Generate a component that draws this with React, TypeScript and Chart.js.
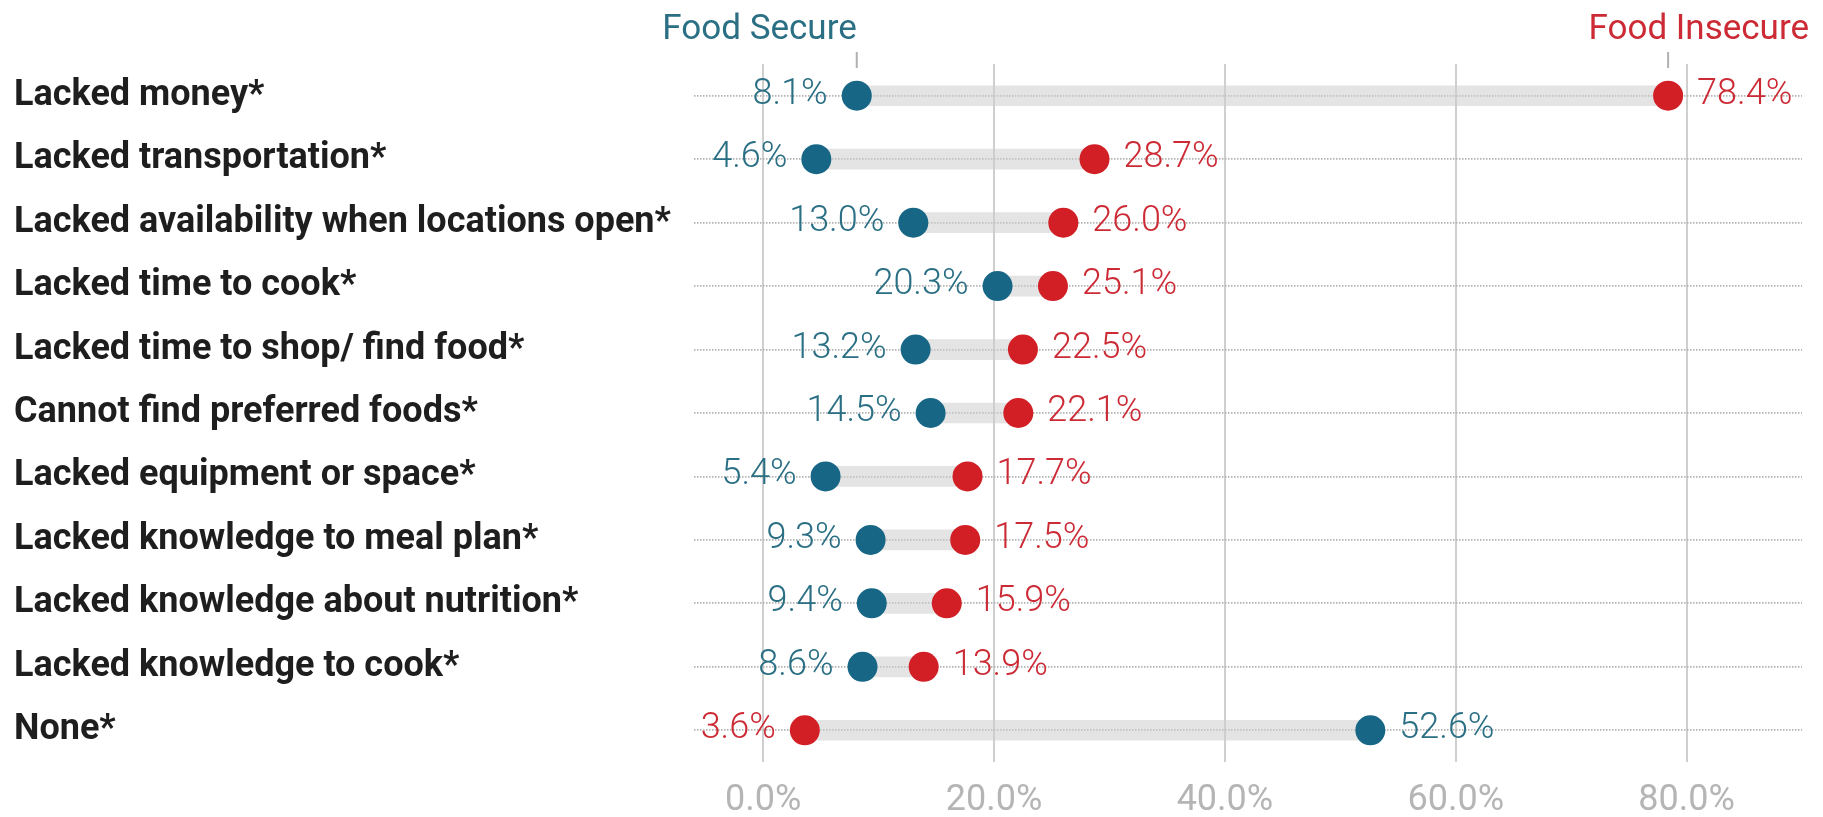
import React, { useEffect, useRef } from "react";
import { Chart, registerables } from "chart.js";

Chart.register(...registerables);

const categories: string[] = [
  "Lacked money*",
  "Lacked transportation*",
  "Lacked availability when locations open*",
  "Lacked time to cook*",
  "Lacked time to shop/ find food*",
  "Cannot find preferred foods*",
  "Lacked equipment or space*",
  "Lacked knowledge to meal plan*",
  "Lacked knowledge about nutrition*",
  "Lacked knowledge to cook*",
  "None*",
];

const foodSecure: number[] = [8.1, 4.6, 13.0, 20.3, 13.2, 14.5, 5.4, 9.3, 9.4, 8.6, 52.6];
const foodInsecure: number[] = [78.4, 28.7, 26.0, 25.1, 22.5, 22.1, 17.7, 17.5, 15.9, 13.9, 3.6];
const xTicks: number[] = [0, 20, 40, 60, 80];
const seriesNames: string[] = ["Food Secure", "Food Insecure"];

const TEAL = "#176686";
const RED = "#d21f26";
const TEAL_TEXT = "#2a6f84";
const RED_TEXT = "#cc2b35";
const FONT = "Roboto";

const fmt = (v: number) => v.toFixed(1) + "%";

const labelPlugin = {
  id: "dumbbellLabels",
  afterDatasetsDraw(chart: any) {
    const ctx = chart.ctx;
    const xs = chart.scales.x;
    const ys = chart.scales.y;
    ctx.save();
    ctx.font = `300 36px ${FONT}`;
    ctx.textBaseline = "middle";
    categories.forEach((_c, i) => {
      const yc = ys.getPixelForValue(i) - 1;
      const a = { v: foodSecure[i], color: TEAL_TEXT };
      const b = { v: foodInsecure[i], color: RED_TEXT };
      const lo = a.v <= b.v ? a : b;
      const hi = a.v <= b.v ? b : a;
      ctx.fillStyle = lo.color;
      ctx.textAlign = "right";
      ctx.fillText(fmt(lo.v), xs.getPixelForValue(lo.v) - 29, yc);
      ctx.fillStyle = hi.color;
      ctx.textAlign = "left";
      ctx.fillText(fmt(hi.v), xs.getPixelForValue(hi.v) + 29, yc);
    });

    // series headers above the first row
    const sx = xs.getPixelForValue(foodSecure[0]);
    const ix = xs.getPixelForValue(foodInsecure[0]);
    ctx.strokeStyle = "#b0b0b0";
    ctx.lineWidth = 2;
    [sx, ix].forEach((px) => {
      ctx.beginPath();
      ctx.moveTo(px, 52);
      ctx.lineTo(px, 68);
      ctx.stroke();
    });
    ctx.font = `400 35px ${FONT}`;
    ctx.textBaseline = "alphabetic";
    ctx.fillStyle = TEAL_TEXT;
    ctx.textAlign = "right";
    ctx.fillText(seriesNames[0], sx, 39);
    ctx.fillStyle = RED_TEXT;
    ctx.fillText(seriesNames[1], chart.width - 14, 39);
    ctx.restore();
  },
};

export default function App() {
  const canvasRef = useRef<HTMLCanvasElement | null>(null);

  useEffect(() => {
    document.body.style.margin = "0";
    const canvas = canvasRef.current;
    if (!canvas) return;
    const chart = new Chart(canvas, {
      type: "bar",
      data: {
        labels: categories,
        datasets: [
          {
            type: "line",
            label: seriesNames[0],
            data: foodSecure,
            showLine: false,
            pointRadius: 15,
            pointHoverRadius: 15,
            pointBackgroundColor: TEAL,
            pointBorderWidth: 0,
            borderColor: TEAL,
            backgroundColor: TEAL,
            order: 1,
          } as any,
          {
            type: "line",
            label: seriesNames[1],
            data: foodInsecure,
            showLine: false,
            pointRadius: 15,
            pointHoverRadius: 15,
            pointBackgroundColor: RED,
            pointBorderWidth: 0,
            borderColor: RED,
            backgroundColor: RED,
            order: 1,
          } as any,
          {
            type: "bar",
            label: "range",
            data: categories.map((_c, i) => [
              Math.min(foodSecure[i], foodInsecure[i]),
              Math.max(foodSecure[i], foodInsecure[i]),
            ]),
            backgroundColor: "rgba(205,205,205,0.55)",
            barThickness: 20,
            borderSkipped: false,
            order: 2,
          } as any,
        ],
      },
      options: {
        indexAxis: "y",
        animation: false,
        responsive: true,
        maintainAspectRatio: false,
        layout: { padding: { top: 64, left: 14, right: 21, bottom: 0 } },
        plugins: {
          legend: { display: false },
          tooltip: { enabled: false },
        },
        scales: {
          x: {
            type: "linear",
            min: -6,
            max: 90,
            afterBuildTicks: (axis: any) => {
              axis.ticks = xTicks.map((v) => ({ value: v }));
            },
            afterFit: (scale: any) => {
              scale.height = 55;
            },
            grid: { color: "#cfcfcf", lineWidth: 2, drawTicks: false },
            border: { display: false },
            ticks: {
              padding: 17,
              color: "#b5b5b5",
              font: { family: FONT, size: 36, weight: "normal" as any },
              callback: (v: any) => Number(v).toFixed(1) + "%",
            },
          },
          y: {
            type: "category",
            offset: true,
            grid: {
              offset: false,
              color: "#b3b3b3",
              lineWidth: 1.8,
              drawTicks: false,
            },
            border: { display: false, dash: [1.5, 1.5] },
            afterFit: (scale: any) => {
              scale.width = 680;
            },
            ticks: {
              crossAlign: "far",
              padding: 0,
              color: "#1e1e1e",
              font: { family: FONT, size: 36, weight: "bold" as any },
            },
          },
        },
      },
      plugins: [labelPlugin],
    } as any);
    return () => chart.destroy();
  }, []);

  return (
    <div style={{ width: 1823, height: 817, position: "relative", background: "#fff" }}>
      <canvas ref={canvasRef} />
    </div>
  );
}
